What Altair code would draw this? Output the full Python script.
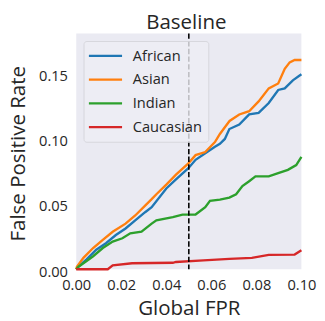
import altair as alt
import pandas as pd

groups = ["African", "Asian", "Indian", "Caucasian"]
colors = ["#1f77b4", "#ff7f0e", "#2ca02c", "#d62728"]

african_fpr = [0, 0.001, 0.0046, 0.0089, 0.0132, 0.0176, 0.0219, 0.0262, 0.0306, 0.0335, 0.04, 0.0443,
               0.0498, 0.053, 0.0573, 0.0616, 0.0638, 0.066, 0.068, 0.0724, 0.0768, 0.081, 0.0855,
               0.0897, 0.0926, 0.0962, 0.1]
african_rate = [0, 0.002, 0.0076, 0.015, 0.020, 0.0263, 0.0313, 0.0376, 0.0438, 0.0476, 0.062, 0.069,
                0.0776, 0.084, 0.089, 0.094, 0.0963, 0.100, 0.1076, 0.111, 0.1188, 0.120, 0.1276,
                0.1376, 0.1388, 0.145, 0.1496]

asian_fpr = [0, 0.0003, 0.0032, 0.0075, 0.0118, 0.0162, 0.0219, 0.0262, 0.0306, 0.0335, 0.0356, 0.04,
             0.0443, 0.0498, 0.053, 0.0573, 0.0616, 0.0638, 0.066, 0.0681, 0.0724, 0.0768, 0.081,
             0.0855, 0.0897, 0.0926, 0.0948, 0.097, 0.1]
asian_rate = [0, 0.002, 0.0088, 0.0163, 0.0226, 0.0288, 0.035, 0.0413, 0.0488, 0.0538, 0.0576, 0.065,
              0.0726, 0.0813, 0.0876, 0.090, 0.0976, 0.1038, 0.109, 0.1138, 0.1188, 0.1213, 0.1288,
              0.1388, 0.1426, 0.1538, 0.1588, 0.1606, 0.1606]

indian_fpr = [0, 0.001, 0.0046, 0.0075, 0.0118, 0.0162, 0.0205, 0.024, 0.029, 0.0335, 0.0356, 0.0429,
              0.0472, 0.053, 0.0573, 0.0594, 0.0638, 0.068, 0.071, 0.0738, 0.0768, 0.0796, 0.0855,
              0.0897, 0.094, 0.0977, 0.1]
indian_rate = [0, 0.002, 0.0063, 0.010, 0.0163, 0.0213, 0.0238, 0.0276, 0.0288, 0.035, 0.0376, 0.040,
               0.042, 0.042, 0.0476, 0.0526, 0.0535, 0.055, 0.0576, 0.0638, 0.0676, 0.0713, 0.0713,
               0.0738, 0.0763, 0.080, 0.0863]

caucasian_fpr = [0, 0.014, 0.0162, 0.0248, 0.0429, 0.0443, 0.0565, 0.068, 0.078, 0.0855, 0.097, 0.1]
caucasian_rate = [0, 0, 0.003, 0.0046, 0.0050, 0.0056, 0.0068, 0.008, 0.0088, 0.0111, 0.0113, 0.0146]

ref_fpr = [0.05]
x_ticks = [0.0, 0.02, 0.04, 0.06, 0.08, 0.10]
y_ticks = [0.0, 0.05, 0.10, 0.15]
title_text = ["Baseline"]

FONT = "Open Sans"
TXT = "#262626"

series = [(african_fpr, african_rate), (asian_fpr, asian_rate),
          (indian_fpr, indian_rate), (caucasian_fpr, caucasian_rate)]
rows = []
for g, (xs, ys) in zip(groups, series):
    for xv, yv in zip(xs, ys):
        rows.append({"fpr": xv, "rate": yv, "group": g})
df = pd.DataFrame(rows)

xscale = alt.Scale(domain=[0, 0.1], nice=False, zero=False)
yscale = alt.Scale(domain=[0, 0.181], nice=False, zero=False)

lines = alt.Chart(df).mark_line(strokeWidth=2.4).encode(
    x=alt.X("fpr:Q", scale=xscale, title="Global FPR",
            axis=alt.Axis(values=x_ticks, format=".2f", grid=False, ticks=False, tickSize=0,
                          domain=False, labelFontSize=15, labelFont=FONT, labelColor=TXT,
                          labelBaseline="alphabetic", labelPadding=21, labelFlush=False,
                          titleFontSize=21, titleFont=FONT, titleColor=TXT, titleFontWeight="normal",
                          titleBaseline="alphabetic", titleY=46)),
    y=alt.Y("rate:Q", scale=yscale, title="False Positive Rate",
            axis=alt.Axis(values=y_ticks, format=".2f", grid=False, ticks=False, tickSize=0,
                          domain=False, labelFontSize=15, labelFont=FONT, labelColor=TXT,
                          labelBaseline="alphabetic", labelOffset=7, labelPadding=9, labelFlush=False,
                          titleFontSize=21, titleFont=FONT, titleColor=TXT, titleFontWeight="normal",
                          titleAngle=270, titleBaseline="alphabetic", titleAlign="center",
                          titleX=-53, titleY=123)),
    color=alt.Color("group:N", scale=alt.Scale(domain=groups, range=colors), legend=None),
    order=alt.Order("fpr:Q"),
)

ref = alt.Chart(pd.DataFrame({"fpr": ref_fpr})).mark_rule(
    color="black", strokeWidth=1.6, strokeDash=[5.5, 2.4]
).encode(x=alt.X("fpr:Q", scale=xscale))

title = alt.Chart(pd.DataFrame({"t": title_text})).mark_text(
    align="center", baseline="alphabetic", font=FONT, fontSize=21, color=TXT
).encode(x=alt.value(113), y=alt.value(-5), text="t:N")

legend_layers = []
legend_layers.append(
    alt.Chart(pd.DataFrame({"a": [0]})).mark_rect(
        fill="#EEEEF4", fillOpacity=0.8, stroke="#d6d6dc", strokeWidth=1, cornerRadius=3
    ).encode(x=alt.value(8), x2=alt.value(136), y=alt.value(8.3), y2=alt.value(111.7))
)
for i, (g, c) in enumerate(zip(groups, colors)):
    yy = 23 + 24.4 * i
    gd = pd.DataFrame({"group": [g]})
    legend_layers.append(
        alt.Chart(gd).mark_rule(color=c, strokeWidth=2.4).encode(
            x=alt.value(13), x2=alt.value(47), y=alt.value(yy))
    )
    legend_layers.append(
        alt.Chart(gd).mark_text(align="left", baseline="middle", font=FONT, fontSize=15,
                                color=TXT).encode(
            x=alt.value(58), y=alt.value(yy), text="group:N")
    )

chart = alt.layer(lines, ref, *legend_layers, title).properties(
    width=231, height=242,
    autosize=alt.AutoSizeParams(type="none"),
    padding={"left": 70, "top": 22, "right": 16, "bottom": 49},
    background="white",
).configure_view(fill="#EAEAF2", stroke=None)

chart.save("out.html", embed_options={"renderer": "svg", "actions": False})
